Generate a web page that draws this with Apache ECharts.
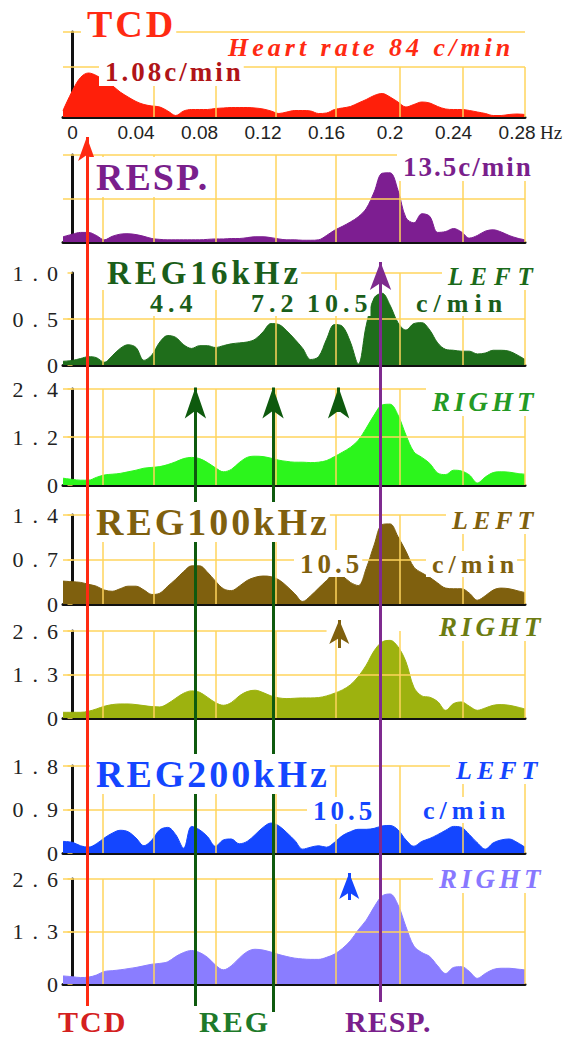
<!DOCTYPE html>
<html>
<head>
<meta charset="utf-8">
<script src="https://cdn.jsdelivr.net/npm/echarts@6/dist/echarts.min.js"></script>
<style>
  html, body { margin: 0; padding: 0; background: #fff; }
  #chart { width: 569px; height: 1037px; }
</style>
</head>
<body>
<div id="chart"></div>
<script>
// frequency axis (Hz), shared by every spectrum
const freqHz = [-0.006, 0, 0.005, 0.01, 0.015, 0.02, 0.025, 0.03, 0.035, 0.04,
  0.045, 0.05, 0.055, 0.06, 0.065, 0.07, 0.075, 0.08, 0.085, 0.09,
  0.095, 0.1, 0.105, 0.11, 0.115, 0.12, 0.125, 0.13, 0.135, 0.14,
  0.145, 0.15, 0.155, 0.16, 0.165, 0.17, 0.175, 0.18, 0.185, 0.19,
  0.195, 0.2, 0.205, 0.21, 0.215, 0.22, 0.225, 0.23, 0.235, 0.24,
  0.245, 0.25, 0.255, 0.26, 0.265, 0.27, 0.275, 0.28, 0.285];

const hzTicks = [0, 0.04, 0.08, 0.12, 0.16, 0.2, 0.24, 0.28];
const gridHz = [0.019, 0.051, 0.09, 0.128, 0.166, 0.206, 0.246, 0.285];

// spectra (TCD and RESP in relative units)
const tcd = [0.13, 0.53, 0.79, 0.88, 0.83, 0.73, 0.63, 0.5, 0.4, 0.31,
  0.25, 0.22, 0.2, 0.12, 0.03, 0.12, 0.15, 0.15, 0.15, 0.17,
  0.18, 0.19, 0.19, 0.19, 0.18, 0.16, 0.12, 0.07, 0.1, 0.13,
  0.13, 0.12, 0.07, 0.08, 0.15, 0.18, 0.21, 0.28, 0.35, 0.43,
  0.47, 0.4, 0.3, 0.2, 0.25, 0.3, 0.28, 0.21, 0.16, 0.15,
  0.15, 0.13, 0.1, 0.07, 0.03, 0.03, 0.05, 0.06, 0.05];
const resp = [0.12, 0.18, 0.22, 0.22, 0.15, 0.05, 0.13, 0.18, 0.19, 0.17,
  0.13, 0.08, 0.06, 0.05, 0.05, 0.05, 0.05, 0.05, 0.06, 0.07,
  0.07, 0.08, 0.08, 0.1, 0.12, 0.12, 0.1, 0.07, 0.05, 0.05,
  0.04, 0.04, 0.05, 0.15, 0.27, 0.36, 0.46, 0.58, 0.77, 1.15,
  1.58, 1.59, 1.19, 0.56, 0.44, 0.65, 0.59, 0.22, 0.24, 0.31,
  0.23, 0.09, 0.15, 0.25, 0.28, 0.23, 0.15, 0.09, 0.05];
const reg16Left = [0.04, 0.05, 0.07, 0.09, 0.08, 0.03, 0.1, 0.18, 0.22, 0.19,
  0.05, 0.11, 0.25, 0.32, 0.3, 0.22, 0.18, 0.21, 0.21, 0.19,
  0.21, 0.23, 0.24, 0.25, 0.28, 0.36, 0.45, 0.44, 0.37, 0.28,
  0.18, 0.06, 0.09, 0.28, 0.44, 0.42, 0.25, 0.01, 0.43, 0.73,
  0.78, 0.65, 0.46, 0.38, 0.45, 0.46, 0.38, 0.24, 0.17, 0.16,
  0.15, 0.15, 0.12, 0.13, 0.16, 0.16, 0.15, 0.11, 0.06];
const reg16Right = [0.17, 0.14, 0.12, 0.12, 0.19, 0.25, 0.27, 0.29, 0.33, 0.37,
  0.42, 0.44, 0.46, 0.51, 0.58, 0.66, 0.69, 0.66, 0.56, 0.43,
  0.33, 0.39, 0.56, 0.69, 0.72, 0.71, 0.67, 0.62, 0.59, 0.57,
  0.57, 0.56, 0.57, 0.61, 0.71, 0.82, 0.94, 1.12, 1.42, 1.75,
  2.0, 2.02, 1.75, 1.25, 0.83, 0.69, 0.54, 0.3, 0.26, 0.37,
  0.35, 0.25, 0.05, 0.2, 0.31, 0.33, 0.32, 0.29, 0.27];
const reg100Left = [0.36, 0.35, 0.34, 0.31, 0.28, 0.22, 0.2, 0.24, 0.28, 0.28,
  0.22, 0.15, 0.17, 0.28, 0.39, 0.51, 0.6, 0.6, 0.5, 0.36,
  0.24, 0.21, 0.28, 0.37, 0.42, 0.44, 0.43, 0.38, 0.28, 0.16,
  0.04, 0.13, 0.25, 0.37, 0.48, 0.44, 0.34, 0.29, 0.56, 0.93,
  1.25, 1.26, 1.06, 0.83, 0.58, 0.49, 0.42, 0.33, 0.25, 0.24,
  0.24, 0.17, 0.06, 0.13, 0.22, 0.25, 0.24, 0.21, 0.18];
const reg100Right = [0.17, 0.17, 0.17, 0.2, 0.27, 0.35, 0.4, 0.42, 0.42, 0.4,
  0.37, 0.34, 0.33, 0.43, 0.59, 0.74, 0.81, 0.77, 0.62, 0.46,
  0.38, 0.46, 0.66, 0.79, 0.83, 0.76, 0.66, 0.6, 0.58, 0.59,
  0.6, 0.6, 0.61, 0.66, 0.74, 0.84, 0.99, 1.24, 1.58, 2.01,
  2.27, 2.32, 2.13, 1.68, 0.92, 0.66, 0.62, 0.49, 0.23, 0.43,
  0.48, 0.35, 0.23, 0.3, 0.38, 0.4, 0.38, 0.33, 0.27];
const reg200Left = [0.24, 0.22, 0.15, 0.12, 0.19, 0.31, 0.41, 0.47, 0.44, 0.31,
  0.15, 0.27, 0.48, 0.53, 0.38, 0.1, 0.55, 0.48, 0.34, 0.14,
  0.27, 0.29, 0.19, 0.24, 0.38, 0.53, 0.62, 0.56, 0.42, 0.26,
  0.08, 0.12, 0.15, 0.12, 0.22, 0.36, 0.44, 0.49, 0.49, 0.51,
  0.56, 0.57, 0.48, 0.27, 0.14, 0.24, 0.3, 0.38, 0.47, 0.55,
  0.53, 0.38, 0.21, 0.08, 0.21, 0.27, 0.29, 0.22, 0.12];
const reg200Right = [0.2, 0.18, 0.16, 0.17, 0.22, 0.31, 0.33, 0.35, 0.38, 0.41,
  0.45, 0.49, 0.51, 0.55, 0.68, 0.78, 0.83, 0.78, 0.66, 0.47,
  0.35, 0.45, 0.64, 0.8, 0.86, 0.84, 0.79, 0.73, 0.68, 0.64,
  0.62, 0.61, 0.61, 0.66, 0.74, 0.88, 1.07, 1.34, 1.58, 1.91,
  2.18, 2.23, 1.96, 1.42, 0.94, 0.78, 0.68, 0.45, 0.26, 0.41,
  0.43, 0.31, 0.14, 0.26, 0.36, 0.39, 0.39, 0.37, 0.35];

// y axis maxima (tick labels at 0, max/2, max)
const yMax = [1.7, 2, 1.0, 2.4, 1.4, 2.6, 1.8, 2.6];
const hGrid = [[1, 1.7], [1, 2], [0.5, 1.0], [1.2, 2.4], [0.7, 1.4], [1.3, 2.6], [0.9, 1.8], [1.3, 2.6]];

// marker frequencies (Hz) for the long / short arrows
const markerHz = { tcd: 0.009, reg1: 0.0774, reg2: 0.1263, resp: 0.194, reg16: 0.1676, reg100: 0.168, reg200: 0.1743 };

const spectra = [tcd, resp, reg16Left, reg16Right, reg100Left, reg100Right, reg200Left, reg200Right];
const fills = ['#ff1f0a', '#7d1e91', '#1f6e1b', '#2cf51c', '#7f600e', '#9db20f', '#1446ff', '#8a7dff'];

// panel placement (px)
const layout = [
  { top: 32, base: 117, vFrom: 1, skipV: [0.019] },
  { top: 155, base: 242 },
  { top: 273, base: 365, span: { '1': [0.143, 0.233] } },
  { top: 389, base: 485 },
  { top: 515, base: 604 },
  { top: 631, base: 718, span: { '2.6': [-0.006, 0.16] } },
  { top: 766, base: 853, span: { '0.9': [-0.006, 0.15] } },
  { top: 879, base: 984 }
];
const H = 1037, LEFT = 63, RIGHT = 44;
const XMIN = -0.006, XMAX = 0.285;
const YELLOW = '#ffd55c';

// letter spacing is done through css on the svg text nodes
const spacings = new Set();
function serif(sp) { spacings.add(sp); return "'Liberation Serif', lsp" + sp + "x"; }

function label(text, x, y, size, color, sp, italic, pad) {
  const v = pad === undefined ? 1 : pad;
  return {
    text: text, left: x - 6, top: y - v,
    padding: [v, sp * (text.length - 1) + 3, v, 6],
    backgroundColor: '#fff',
    textStyle: { fontFamily: serif(sp), fontSize: size, fontWeight: 'bold',
      fontStyle: italic ? 'italic' : 'normal', color: color }
  };
}

const titles = [
  label('TCD', 87, 5, 38, '#ff2a12', 3),
  label('Heart rate 84 c/min', 228, 34, 26, '#ff2a12', 4, true),
  label('1.08c/min', 105, 58, 27, '#b01418', 3),
  label('RESP.', 96, 158, 38, '#7a1f8c', 2),
  label('13.5c/min', 403, 153, 27, '#7a1f8c', 2),
  label('REG16kHz', 107, 256, 33, '#1a5e1a', 4),
  label('LEFT', 448, 264, 25, '#1a6a1a', 7, true),
  label('4.4', 150, 290, 26, '#1a5e1a', 5, false, 0),
  label('7.2', 251, 290, 26, '#1a5e1a', 5, false, 0),
  label('10.5', 307, 290, 26, '#1a5e1a', 5, false, 0),
  label('c/min', 416, 290, 26, '#1a5e1a', 6, false, 0),
  label('RIGHT', 432, 388, 27, '#249a24', 4, true),
  label('REG100kHz', 96, 503, 38, '#7f600e', 3),
  label('LEFT', 452, 507, 26, '#7f600e', 5, true),
  label('10.5', 300, 550, 27, '#7f600e', 4, false, 0),
  label('c/min', 432, 551, 26, '#7f600e', 5, false, 0),
  label('RIGHT', 439, 613, 27, '#6d7c12', 4, true),
  label('REG200kHz', 96, 755, 38, '#1446ff', 3),
  label('LEFT', 456, 757, 26, '#1446ff', 5, true),
  label('10.5', 313, 797, 27, '#1446ff', 4, false, 0),
  label('c/min', 423, 797, 26, '#1446ff', 5, false, 0),
  label('RIGHT', 439, 865, 27, '#8878ff', 4, true),
  label('TCD', 58, 1006, 30, '#d42020', 2, false, 0),
  label('REG', 199, 1006, 30, '#1e7a2a', 2, false, 0),
  label('RESP.', 345, 1006, 30, '#7a1f8c', 1, false, 0)
];

// arrows: position on the frequency axis, stem bottom and tip (page px)
const arrows = [
  { hz: markerHz.tcd, from: 1008, tip: 125, color: '#ff2a12', head: [13, 24] },
  { hz: markerHz.reg1, from: 1012, tip: 372, color: '#0e5a0e', head: [16, 31] },
  { hz: markerHz.reg2, from: 1012, tip: 372, color: '#0e5a0e', head: [16, 31] },
  { hz: markerHz.reg16, from: 412, tip: 372, color: '#0e5a0e', head: [16, 31] },
  { hz: markerHz.resp, from: 1002, tip: 248, color: '#7f2a8f', head: [16, 28] },
  { hz: markerHz.reg100, from: 648, tip: 608, color: '#7f600e', head: [15, 24] },
  { hz: markerHz.reg200, from: 900, tip: 860, color: '#1446ff', head: [15, 26] }
];

const grids = [], xAxes = [], yAxes = [], series = [];
layout.forEach(function (p, i) {
  grids.push({ left: LEFT, right: RIGHT, top: p.top, bottom: H - p.base, outerBoundsMode: 'none' });
  xAxes.push({
    gridIndex: i, type: 'value', min: XMIN, max: XMAX,
    splitLine: { show: false }, axisTick: { show: false },
    axisLine: { show: true, onZero: false, lineStyle: { color: '#111', width: 3 } },
    axisLabel: i === 0 ? {
      show: true, customValues: hzTicks, margin: 6,
      fontFamily: 'Liberation Sans', fontSize: 19, color: '#222',
      formatter: function (v) { return String(+v.toFixed(2)); }
    } : { show: false },
    name: i === 0 ? 'Hz' : '', nameLocation: 'end', nameGap: 15,
    nameTextStyle: { fontFamily: 'Liberation Serif', fontSize: 19, color: '#222',
      align: 'left', verticalAlign: 'top', padding: [6, 0, 0, 0] }
  });
  yAxes.push({
    gridIndex: i, type: 'value', min: 0, max: yMax[i], interval: yMax[i] / 2,
    splitLine: { show: false },
    axisLine: { show: true, lineStyle: { color: '#111', width: 3 } },
    axisTick: { show: i >= 2, length: 5, lineStyle: { color: YELLOW, width: 1.5 } },
    axisLabel: {
      show: i >= 2, margin: -4, fontFamily: serif(9), fontSize: 22, color: '#222',
      formatter: function (v) { return v === 0 ? '0' : v.toFixed(1); }
    }
  });
  const lines = [];
  hGrid[i].forEach(function (v) {
    const s = (p.span && p.span[String(v)]) || [XMIN, XMAX];
    lines.push([{ coord: [s[0], v] }, { coord: [s[1], v] }]);
  });
  gridHz.forEach(function (hz) {
    if (p.skipV && p.skipV.indexOf(hz) >= 0) return;
    lines.push([{ coord: [hz, p.vFrom || yMax[i]] }, { coord: [hz, 0] }]);
  });
  series.push({
    type: 'line', xAxisIndex: i, yAxisIndex: i, data: [], z: 1, silent: true,
    markLine: { silent: true, symbol: ['none', 'none'], label: { show: false },
      lineStyle: { color: YELLOW, width: 1.5, type: 'solid' }, data: lines }
  });
  series.push({
    type: 'line', xAxisIndex: i, yAxisIndex: i, z: 2, silent: true,
    data: freqHz.map(function (f, k) { return [f, spectra[i][k]]; }),
    smooth: 0.35, symbol: 'none',
    lineStyle: { width: 1, color: fills[i] },
    areaStyle: { color: fills[i], opacity: 1 }
  });
});

// overlay for the arrows that cross the panels
grids.push({ left: LEFT, right: RIGHT, top: 0, bottom: 0, outerBoundsMode: 'none' });
xAxes.push({ gridIndex: 8, type: 'value', min: XMIN, max: XMAX, show: false });
yAxes.push({ gridIndex: 8, type: 'value', min: 0, max: H, inverse: true, show: false });
series.push({
  type: 'line', xAxisIndex: 8, yAxisIndex: 8, data: [], z: 4, silent: true,
  markLine: {
    silent: true, label: { show: false },
    data: arrows.map(function (a) {
      return [
        { coord: [a.hz, a.from], symbol: 'none', lineStyle: { color: a.color, width: 3, type: 'solid' } },
        { coord: [a.hz, a.tip + a.head[1] / 2], symbol: 'arrow', symbolSize: a.head }
      ];
    })
  }
});

const css = Array.from(spacings).map(function (s) {
  return 'text[style*="lsp' + s + 'x"]{letter-spacing:' + s + 'px}';
}).join('\n');
document.head.insertAdjacentHTML('beforeend', '<style>' + css + '</style>');

const chart = echarts.init(document.getElementById('chart'), null, { renderer: 'svg' });
chart.setOption({
  animation: false,
  backgroundColor: '#fff',
  title: titles,
  grid: grids,
  xAxis: xAxes,
  yAxis: yAxes,
  series: series
});
</script>
</body>
</html>
